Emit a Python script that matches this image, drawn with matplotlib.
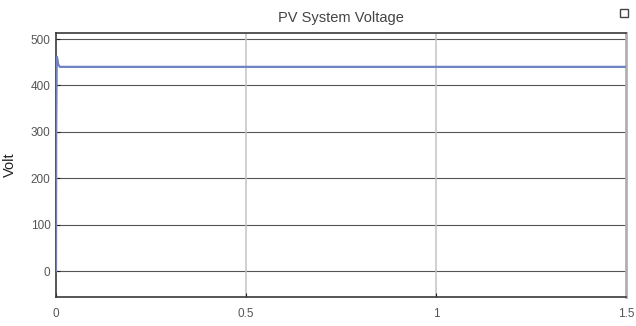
import numpy as np
import matplotlib.pyplot as plt

# PV voltage trace (s, V)
t = [0.0, 0.0005, 0.002, 0.004, 0.006, 0.01, 0.5, 1.0, 1.5]
volt = [0.0, 300.0, 462.0, 455.0, 445.0, 440.0, 440.0, 440.0, 440.0]

xticks = [0, 0.5, 1, 1.5]
xticklabels = ['0', '0.5', '1', '1.5']
yticks = [0, 100, 200, 300, 400, 500]

plt.rcParams['font.family'] = ['Liberation Sans', 'DejaVu Sans']

fig = plt.figure(figsize=(6.36, 3.26), dpi=100)
ax = fig.add_axes([56/636, 29/326, 570/636, 264/326])

# horizontal grid dark, vertical grid light
for y in yticks:
    ax.axhline(y, color='#555555', linewidth=0.8, zorder=1)
for x in xticks[1:3]:
    ax.axvline(x, color='#c4c4c4', linewidth=1.1, zorder=1)

ax.plot(t, volt, color='#6f82c6', linewidth=1.6, zorder=3)

ax.set_xlim(0, 1.5)
ax.set_ylim(-56, 513)
ax.set_xticks(xticks)
ax.set_xticklabels(xticklabels)
ax.set_yticks(yticks)
ax.tick_params(direction='in', length=3, labelsize=8.5, colors='#222222',
               labelcolor='#555555', pad=4)
ax.tick_params(axis='x', pad=8)

for side in ['left', 'top', 'bottom']:
    ax.spines[side].set_color('#3a3a3a')
    ax.spines[side].set_linewidth(1.2)
ax.spines['right'].set_color('#b0b0b0')
ax.spines['right'].set_linewidth(2.0)

ax.set_title('PV System Voltage', fontsize=10.5, color='#444444', pad=8)
ax.set_ylabel('Volt', fontsize=10.5, color='#222222', labelpad=10)

# small window icon in the corner
fig.patches.append(plt.Rectangle((620/636, 1 - 17/326), 8/636, 8/326,
                                 transform=fig.transFigure, fill=False,
                                 edgecolor='#444444', linewidth=1.0))

fig.savefig('out.png', dpi=100)
